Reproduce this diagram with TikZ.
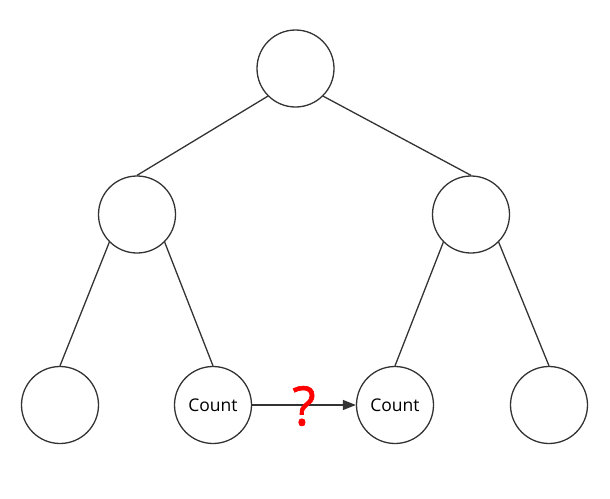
\documentclass[tikz,border=0pt]{standalone}
\usepackage{fontspec}
\setmainfont{Open Sans}
\newfontfamily\qfont[FakeBold=1.2]{Open Sans}
\usetikzlibrary{arrows.meta}
\definecolor{linegray}{HTML}{333333}
\begin{document}
\begin{tikzpicture}[x=1pt,y=-1pt,
  tnode/.style={circle,draw=linegray,line width=1.3pt,minimum size=77pt,inner sep=0pt,font=\fontsize{17.5}{20}\selectfont},
  edge/.style={draw=linegray,line width=1.3pt}]
\useasboundingbox (0,0) rectangle (610,498);
\node[tnode] (r) at (295.5,68.5) {};
\node[tnode] (a) at (137,214.5) {};
\node[tnode] (b) at (471,214.5) {};
\node[tnode] (c) at (60,405) {};
\node[tnode] (d) at (213,405) {Count};
\node[tnode] (e) at (395,405) {Count};
\node[tnode] (f) at (549,405) {};
\draw[edge] (r.south west) -- (a.north);
\draw[edge] (r.south east) -- (b.north);
\draw[edge] (a.south west) -- (c.north);
\draw[edge] (a.south east) -- (d.north);
\draw[edge] (b.south west) -- (e.north);
\draw[edge] (b.south east) -- (f.north);
\draw[edge,-{Triangle[length=13pt,width=10pt]}] (d.east) -- (e.west);
\node[text=red,font=\qfont\fontsize{54}{58}\selectfont,inner sep=0pt] (q) at (304,406) {?};
\end{tikzpicture}
\end{document}
